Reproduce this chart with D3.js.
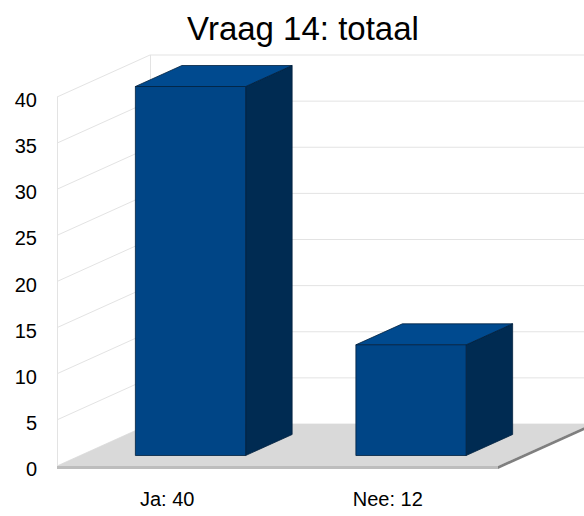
<!DOCTYPE html>
<html><head><meta charset="utf-8">
<script src="https://cdn.jsdelivr.net/npm/d3@7"></script>
<style>html,body{margin:0;padding:0;background:#fff;}svg{display:block;}</style>
</head><body>
<svg id="c" width="584" height="516"></svg>
<script>
const title = "Vraag 14: totaal";
const categories = ["Ja: 40", "Nee: 12"];
const values = [40, 12];
const yTicks = [0, 5, 10, 15, 20, 25, 30, 35, 40];

const svg = d3.select("#c");
const font = "'Liberation Sans', Arial, sans-serif";
const DX = 93, DY = -42; // depth projection
const x0 = 57, x1 = 498;
const y = d3.scaleLinear().domain([0, 40]).range([466, 97]);
const x = d3.scaleBand().domain(categories).range([x0, x1]).paddingInner(0.5).paddingOuter(0.25);
const P = (px, py, d) => [px + DX * d, py + DY * d];
const poly = pts => pts.map(p => p.join(",")).join(" ");

svg.append("text").attr("x", 303).attr("y", 40).attr("text-anchor", "middle")
  .attr("font-family", font).attr("font-size", 33).attr("fill", "#000").text(title);

// walls gridlines
const grid = svg.append("g").attr("stroke", "#e3e3e3").attr("stroke-width", 1).attr("fill", "none");
yTicks.forEach(v => {
  const a = P(x0, y(v), 0), b = P(x0, y(v), 1), c = P(x1, y(v), 1);
  grid.append("line").attr("x1", a[0]).attr("y1", a[1]).attr("x2", b[0]).attr("y2", b[1]);
  grid.append("line").attr("x1", b[0]).attr("y1", b[1]).attr("x2", c[0]).attr("y2", c[1]);
});
grid.append("line").attr("x1", x0 + 0.5).attr("y1", y(40)).attr("x2", x0 + 0.5).attr("y2", y(0));
grid.append("line").attr("x1", x0 + DX + 0.5).attr("y1", y(40) + DY).attr("x2", x0 + DX + 0.5).attr("y2", y(0) + DY);

// floor
const fy = y(0), th = 3;
svg.append("polygon").attr("points", poly([P(x0, fy, 0), P(x1, fy, 0), P(x1, fy, 1), P(x0, fy, 1)])).attr("fill", "#d9d9d9");
svg.append("polygon").attr("points", poly([P(x0, fy, 0), P(x1, fy, 0), P(x1, fy + th, 0), P(x0, fy + th, 0)])).attr("fill", "#bdbdbd");
svg.append("polygon").attr("points", poly([P(x1, fy, 0), P(x1, fy, 1), P(x1, fy + th, 1), P(x1, fy + th, 0)])).attr("fill", "#7f7f7f");

// bars
const d0 = 0.25, d1 = 0.75;
const bars = svg.append("g").attr("stroke", "#00213f").attr("stroke-width", 0.8).attr("stroke-linejoin", "round");
categories.forEach((c, i) => {
  const l = x(c), r = l + x.bandwidth(), t = y(values[i]), b = y(0);
  bars.append("polygon").attr("points", poly([P(r, t, d0), P(r, t, d1), P(r, b, d1), P(r, b, d0)])).attr("fill", "#002b52");
  bars.append("polygon").attr("points", poly([P(l, t, d0), P(r, t, d0), P(r, t, d1), P(l, t, d1)])).attr("fill", "#004a8f");
  bars.append("polygon").attr("points", poly([P(l, t, d0), P(r, t, d0), P(r, b, d0), P(l, b, d0)])).attr("fill", "#004586");
});

// y labels
svg.append("g").selectAll("text").data(yTicks).join("text")
  .attr("x", 37).attr("y", d => y(d) + 10).attr("text-anchor", "end")
  .attr("font-family", font).attr("font-size", 20).attr("fill", "#000").text(d => d);

// x labels
svg.append("g").selectAll("text").data(categories).join("text")
  .attr("x", d => x(d) + x.bandwidth() / 2).attr("y", 506).attr("text-anchor", "middle")
  .attr("font-family", font).attr("font-size", 20).attr("fill", "#000").text(d => d);
</script>
</body></html>
